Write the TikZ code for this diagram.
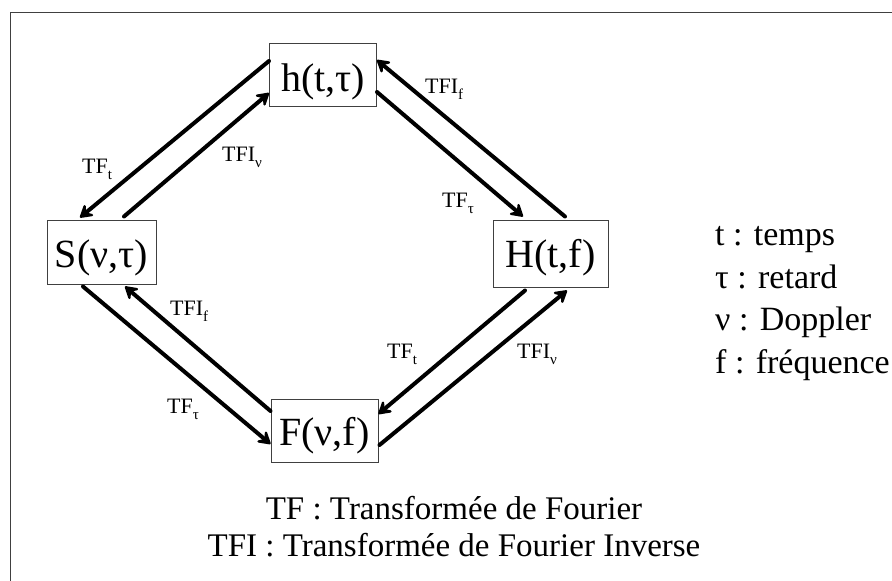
\documentclass[tikz,border=0pt]{standalone}
\usepackage{fontspec}
\setmainfont{Liberation Serif}
\usetikzlibrary{arrows.meta}
\newcommand\subix[1]{\raisebox{-6.5pt}{\fontsize{15}{15}\selectfont #1}}
\begin{document}
\begin{tikzpicture}[x=1pt,y=-1pt,>={Stealth[length=16pt,width=19pt,inset=7pt,round]},
  fnbox/.style={draw=black!75,line width=1pt,inner sep=0pt,minimum height=63pt,
    text height=30pt,text depth=0pt,font=\fontsize{40}{46}\selectfont},
  transfo/.style={->,line width=4pt,line cap=round},
  tlabel/.style={anchor=base west,inner sep=0pt,font=\fontsize{22}{26}\selectfont}]
\useasboundingbox (0,0) rectangle (892,581);
\draw[black!75,line width=1pt] (892,12) -- (10.5,12) -- (10.5,581);
\node[fnbox,minimum width=107pt,text height=33pt] (h) at (323,74.5) {h(t,τ)};
\node[fnbox,minimum width=109pt,minimum height=64pt] (S) at (101.5,252) {S(ν,τ)};
\node[fnbox,minimum width=115pt,minimum height=67pt,text height=27pt] (H) at (550.5,253.5) {H(t,f)};
\node[fnbox,minimum width=107pt,text height=29pt] (F) at (324.5,430.5) {F(ν,f)};
\draw[transfo] ([yshift=13.5pt]h.west) -- ([xshift=-21.5pt,yshift=2pt]S.north);
\draw[transfo] ([xshift=22.5pt,yshift=3pt]S.north) -- ([yshift=-18.5pt]h.west);
\draw[transfo] ([xshift=14.5pt,yshift=3pt]H.north) -- ([yshift=14.5pt]h.east);
\draw[transfo] ([yshift=-17.5pt]h.east) -- ([xshift=-27.5pt,yshift=3pt]H.north);
\draw[transfo] ([xshift=-18.5pt,yshift=-2pt]S.south) -- ([yshift=-13.5pt]F.west);
\draw[transfo] ([yshift=19.5pt]F.west) -- ([xshift=23.5pt,yshift=-2pt]S.south);
\draw[transfo] ([xshift=-25.5pt,yshift=-3pt]H.south) -- ([yshift=16.5pt]F.east);
\draw[transfo] ([xshift=1pt,yshift=-14.5pt]F.east) -- ([xshift=16.5pt,yshift=-3pt]H.south);
\node[tlabel] (tft-hs) at (82,173) {TF\subix{t}};
\node[tlabel] (tfinu-sh) at (222,161) {TFI\subix{ν}};
\node[tlabel] (tfif-Hh) at (425,93) {TFI\subix{f}};
\node[tlabel] (tftau-hH) at (442,207) {TF\subix{τ}};
\node[tlabel] (tfif-FS) at (170,315) {TFI\subix{f}};
\node[tlabel] (tftau-SF) at (167,413) {TF\subix{τ}};
\node[tlabel] (tft-HF) at (387,358) {TF\subix{t}};
\node[tlabel] (tfinu-FH) at (517,358) {TFI\subix{ν}};
\node[anchor=base west,align=left,inner sep=0pt,font=\fontsize{34}{42.5}\selectfont] (legend) at (715,373)
  {t : temps\\τ : retard\\ν : Doppler\\f : fréquence};
\node[anchor=base,align=center,inner sep=0pt,font=\fontsize{33}{37}\selectfont] (notes) at (454,556)
  {TF : Transformée de Fourier\\TFI : Transformée de Fourier Inverse};
\end{tikzpicture}
\end{document}
